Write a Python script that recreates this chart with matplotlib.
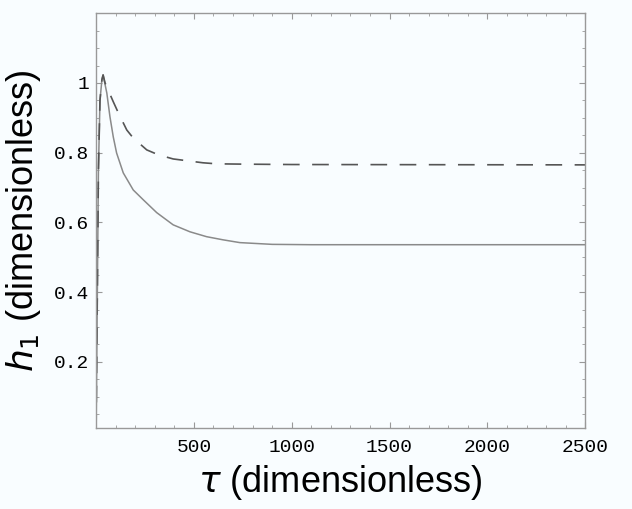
import matplotlib.pyplot as plt
from matplotlib.ticker import MultipleLocator, FixedLocator

# valores
tau_solida = [0, 5, 12, 20, 30, 36, 55, 71, 88, 105, 139, 190, 241, 310, 394,
              480, 565, 649, 735, 900, 1100, 2500]
h_solida = [0.0, 0.3, 0.75, 0.95, 1.01, 1.023, 0.971, 0.903, 0.845, 0.799, 0.742,
            0.693, 0.665, 0.628, 0.593, 0.573, 0.559, 0.550, 0.542, 0.537, 0.536, 0.536]

tau_discontinua = [0, 5, 12, 20, 30, 36, 46, 88, 114, 157, 190, 259, 318, 394,
                   463, 546, 616, 769, 1000, 2500]
h_discontinua = [0.0, 0.3, 0.75, 0.95, 1.01, 1.023, 1.0, 0.946, 0.914, 0.865, 0.842,
                 0.808, 0.794, 0.782, 0.777, 0.771, 0.768, 0.767, 0.766, 0.765]

ticks_x = [500, 1000, 1500, 2000, 2500]
ticks_y = [0.2, 0.4, 0.6, 0.8, 1.0]
etiquetas_y = ["0.2", "0.4", "0.6", "0.8", "1"]

fondo = '#f9fdff'
fig = plt.figure(figsize=(6.32, 5.09), dpi=100, facecolor=fondo)
ax = fig.add_axes([0.152, 0.159, 0.774, 0.815], facecolor=fondo)

ax.plot(tau_solida, h_solida, color='#8a8a8a', lw=1.1)
ax.plot(tau_discontinua, h_discontinua, color='#555555', lw=1.2, dashes=(10, 7.5))

ax.set_xlim(0, 2500)
ax.set_ylim(0.01, 1.2)

ax.xaxis.set_major_locator(FixedLocator(ticks_x))
ax.xaxis.set_minor_locator(MultipleLocator(100))
ax.yaxis.set_major_locator(FixedLocator(ticks_y))
ax.set_yticklabels(etiquetas_y)
ax.yaxis.set_minor_locator(MultipleLocator(0.05))

ax.tick_params(which='both', direction='in', top=True, right=True, color='#999999')
ax.tick_params(which='major', length=4, width=0.8)
ax.tick_params(which='minor', length=2.5, width=0.6)
ax.tick_params(axis='x', pad=8)
ax.tick_params(axis='y', pad=5)
for lab in ax.get_xticklabels() + ax.get_yticklabels():
    lab.set_fontfamily('Liberation Mono')
    lab.set_fontsize(14)

for s in ax.spines.values():
    s.set_color('#999999')
    s.set_linewidth(1.0)

ax.set_xlabel(r'$\tau$ (dimensionless)', fontsize=26, family='Liberation Sans', labelpad=5)
ax.set_ylabel(r'$h_1$ (dimensionless)', fontsize=26, family='Liberation Sans', labelpad=8)

plt.savefig('out.png', dpi=100, facecolor=fondo)
